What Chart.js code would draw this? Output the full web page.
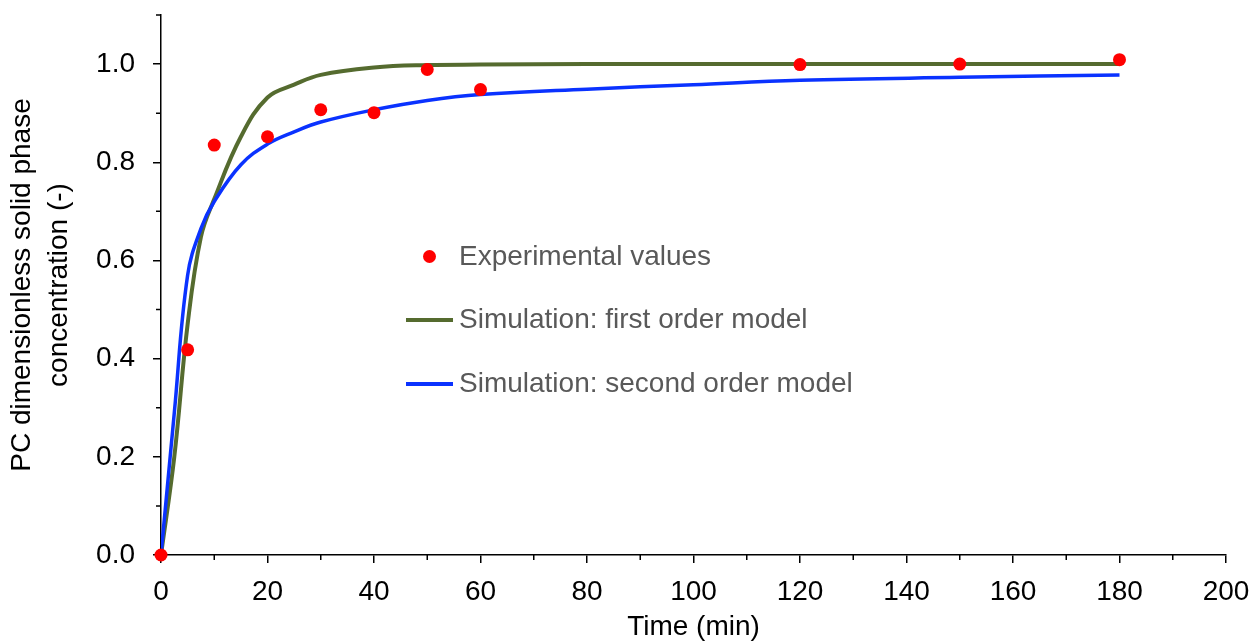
<!DOCTYPE html>
<html>
<head>
<meta charset="utf-8">
<script src="https://cdn.jsdelivr.net/npm/chart.js@4.4.1/dist/chart.umd.min.js"></script>
<style>
  body { margin: 0; background: #fff; }
  .wrap { position: relative; width: 1251px; height: 643px; }
  .legend { position: absolute; left: 0; top: 0; font-family: "Liberation Sans", Arial, sans-serif; font-size: 28px; line-height: 28px; color: #595959; }
  .item { position: absolute; left: 459px; white-space: nowrap; }
  .dot { position: absolute; width: 13px; height: 13px; border-radius: 50%; background: #ff0000; }
  .seg { position: absolute; width: 47px; height: 4px; }
</style>
</head>
<body>
<div class="wrap">
  <canvas id="myChart" width="1251" height="643"></canvas>
  <div class="legend">
    <span class="dot" style="left:423px; top:250px;"></span>
    <div class="item" style="top:242px;">Experimental values</div>
    <span class="seg" style="left:406px; top:318px; background:#556b2f;"></span>
    <div class="item" style="top:305px;">Simulation: first order model</div>
    <span class="seg" style="left:406px; top:382px; background:#0a32ff;"></span>
    <div class="item" style="top:369px;">Simulation: second order model</div>
  </div>
</div>
<script>
// 실험값
const expTime = [0, 5, 10, 20, 30, 40, 50, 60, 120, 150, 180];
const expValues = [0, 0.418, 0.835, 0.852, 0.907, 0.901, 0.989, 0.948, 0.999, 1.0, 1.009];

// 시뮬레이션 (1차, 2차 모델) - 그림에서 읽은 값
const simTime = [0, 2.5, 5, 7.5, 10, 15, 20, 25, 30, 40, 50, 60, 80, 100, 120, 150, 180];
const firstOrder = [0, 0.2, 0.47, 0.648, 0.725, 0.852, 0.932, 0.958, 0.978, 0.993, 0.998, 0.999, 1.0, 1.0, 1.0, 1.0, 1.0];
const secondOrder = [0, 0.29, 0.57, 0.665, 0.72, 0.795, 0.837, 0.862, 0.882, 0.907, 0.926, 0.938, 0.949, 0.958, 0.967, 0.973, 0.978];

// 눈금
const yMajor = [0, 0.2, 0.4, 0.6, 0.8, 1.0];
const yMinor = [0.1, 0.3, 0.5, 0.7, 0.9, 1.1];
const xMinor = [10, 30, 50, 70, 90, 110, 130, 150, 170, 190];

const FONT = "'Liberation Sans', Arial, sans-serif";

const toPoints = (xs, ys) => xs.map((x, i) => ({ x: x, y: ys[i] }));

// 보조 눈금 그리기
const minorTicks = {
  id: "minorTicks",
  afterDraw(chart) {
    const { ctx, scales } = chart;
    const x = scales.x;
    const y = scales.y;
    ctx.save();
    ctx.strokeStyle = "#000";
    ctx.lineWidth = 1.5;
    ctx.beginPath();
    xMinor.forEach((v) => {
      const px = x.getPixelForValue(v);
      ctx.moveTo(px, x.top);
      ctx.lineTo(px, x.top + 5);
    });
    yMinor.forEach((v) => {
      const py = y.getPixelForValue(v);
      ctx.moveTo(y.right - 5, py);
      ctx.lineTo(y.right, py);
    });
    ctx.stroke();
    ctx.restore();
  },
};

const ctx = document.getElementById("myChart").getContext("2d");
const myChart = new Chart(ctx, {
  type: "scatter",
  data: {
    datasets: [
      {
        label: "Experimental values",
        data: toPoints(expTime, expValues),
        backgroundColor: "#ff0000",
        borderColor: "#ff0000",
        pointRadius: 6.5,
        pointBorderWidth: 0,
        clip: false,
        order: 0,
      },
      {
        label: "Simulation: first order model",
        data: toPoints(simTime, firstOrder),
        showLine: true,
        borderColor: "#556b2f",
        borderWidth: 4,
        pointRadius: 0,
        tension: 0.4,
        order: 2,
      },
      {
        label: "Simulation: second order model",
        data: toPoints(simTime, secondOrder),
        showLine: true,
        borderColor: "#0a32ff",
        borderWidth: 3.5,
        pointRadius: 0,
        tension: 0.4,
        order: 1,
      },
    ],
  },
  options: {
    responsive: false,
    animation: false,
    layout: { padding: { top: 15, right: 25, left: 0, bottom: 0 } },
    plugins: {
      legend: { display: false },
      tooltip: { enabled: false },
    },
    scales: {
      x: {
        type: "linear",
        min: 0,
        max: 200,
        ticks: {
          stepSize: 20,
          color: "#000",
          padding: 15,
          font: { family: FONT, size: 28, lineHeight: 1 },
        },
        grid: { drawOnChartArea: false, color: "#000", lineWidth: 1.5, tickLength: 8 },
        border: { color: "#000", width: 1.5 },
        title: {
          display: true,
          text: "Time (min)",
          color: "#000",
          padding: { top: 0, bottom: 0 },
          font: { family: FONT, size: 28, lineHeight: 1.1 },
        },
        afterFit: (scale) => {
          scale.height = 88;
          scale.paddingLeft = 0;
          scale.paddingRight = 0;
        },
      },
      y: {
        min: 0,
        max: 1.1,
        ticks: {
          color: "#000",
          padding: 18,
          font: { family: FONT, size: 28, lineHeight: 1 },
          callback: (v) => v.toFixed(1),
        },
        afterBuildTicks: (scale) => {
          scale.ticks = yMajor.map((v) => ({ value: v }));
        },
        grid: { drawOnChartArea: false, color: "#000", lineWidth: 1.5, tickLength: 8 },
        border: { color: "#000", width: 1.5 },
        title: {
          display: true,
          text: ["PC dimensionless solid phase", "concentration (-)"],
          color: "#000",
          padding: { top: 3, bottom: 0 },
          font: { family: FONT, size: 28, lineHeight: 1.35 },
        },
        afterFit: (scale) => {
          scale.width = 161;
          scale.paddingTop = 0;
          scale.paddingBottom = 0;
        },
      },
    },
  },
  plugins: [minorTicks],
});
</script>
</body>
</html>
